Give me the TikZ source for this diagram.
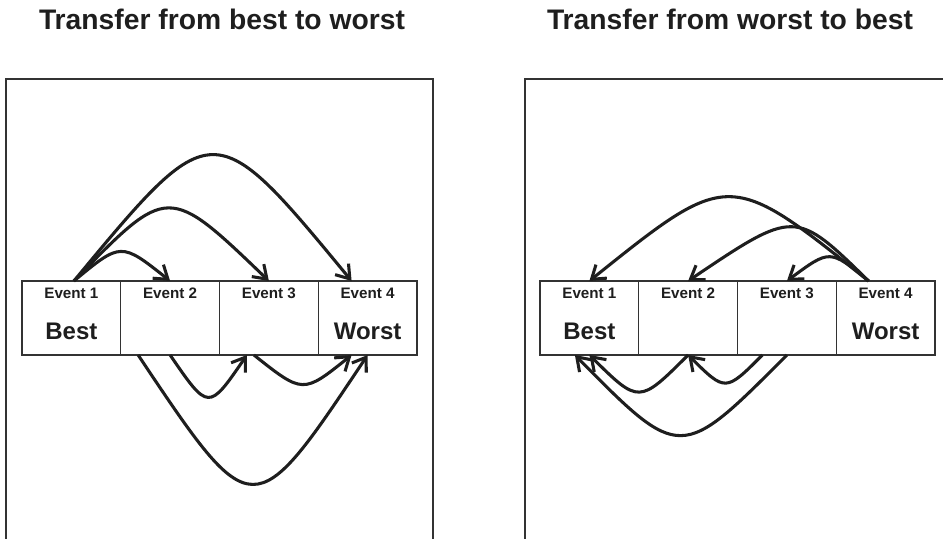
\documentclass[tikz,border=0pt]{standalone}
\usepackage{fontspec}
\setmainfont{Liberation Sans}
\usetikzlibrary{arrows.meta,calc}
\definecolor{ink}{HTML}{1E1E1E}
\definecolor{frame}{HTML}{333333}
\begin{document}
\begin{tikzpicture}[x=0.75pt,y=-0.75pt,
  panel/.style={draw=frame,line width=1.3pt},
  cell/.style={draw=frame,line width=0.8pt,rectangle,minimum width=74.06pt,minimum height=55.5pt,inner sep=0pt,outer sep=0pt},
  evtxt/.style={font=\bfseries\fontsize{11.4}{13}\selectfont,text=ink,inner sep=0pt,anchor=base},
  bigtxt/.style={font=\bfseries\fontsize{18}{21}\selectfont,text=ink,inner sep=0pt,anchor=base},
  ttl/.style={font=\bfseries\fontsize{21.2}{25}\selectfont,text=ink,inner sep=0pt,anchor=base},
  arr/.style={draw=ink,line width=2.3pt,-{Straight Barb[length=9.5pt,width=13pt]}}]
\useasboundingbox (0,0) rectangle (943,539);
\clip (0,0) rectangle (943,539);
% titles
\node[ttl] (t1) at (222,30) {Transfer from best to worst};
\node[ttl] (t2) at (730,30) {Transfer from worst to best};
% panels
\draw[panel] (6,79) rectangle (433,570);
\draw[panel] (525,79) rectangle (980,570);
% left cells
\node[cell] (a1) at (71.4,318) {};
\node[cell] (a2) at (170.1,318) {};
\node[cell] (a3) at (268.9,318) {};
\node[cell] (a4) at (367.6,318) {};
% right cells
\node[cell] (b1) at (589.4,318) {};
\node[cell] (b2) at (688.1,318) {};
\node[cell] (b3) at (786.9,318) {};
\node[cell] (b4) at (885.6,318) {};
% labels
\foreach \c/\n in {a1/1,a2/2,a3/3,a4/4,b1/1,b2/2,b3/3,b4/4}{
  \node[evtxt] (\c t) at ($(\c.north)+(0,17.3)$) {Event \n};
}
\node[bigtxt] (a1l) at ($(a1.north)+(0,58)$) {Best};
\node[bigtxt] (a4l) at ($(a4.north)+(0,58)$) {Worst};
\node[bigtxt] (b1l) at ($(b1.north)+(0,58)$) {Best};
\node[bigtxt] (b4l) at ($(b4.north)+(0,58)$) {Worst};
% left top arrows
\coordinate (s1) at ($(a1.north)+(2.5,0)$);
\draw[arr] (s1) .. controls (121,242) and (121,242) .. (a2.north);
\draw[arr] (s1) .. controls (168,184) and (168,184) .. (a3.north);
\draw[arr] (s1) .. controls (213,113) and (213,113) .. ($(a4.north)+(-16,0)$);
% left bottom arrows
\draw[arr] ($(a2.south)+(-32,0)$) .. controls (253,527) and (253,527) .. (a4.south);
\draw[arr] (a2.south) .. controls (208.5,411) and (208.5,411) .. ($(a3.south)+(-22,0)$);
\draw[arr] ($(a3.south)+(-15,0)$) .. controls (303,394) and (303,394) .. ($(a4.south)+(-16,0)$);
% right top arrows
\coordinate (s4) at ($(b4.north)+(-17,0)$);
\draw[arr] (s4) .. controls (729,169) and (729,169) .. (b1.north);
\draw[arr] (s4) .. controls (795,209) and (795,209) .. (b2.north);
\draw[arr] (s4) .. controls (830,249) and (830,249) .. (b3.north);
% right bottom arrows
\draw[arr] ($(b3.south)+(-24.5,0)$) .. controls (725.5,392) and (725.5,392) .. (b2.south);
\draw[arr] (b2.south) .. controls (639,404) and (639,404) .. (b1.south);
\draw[arr] (b3.south) .. controls (680.5,462) and (680.5,462) .. ($(b1.south)+(-14.5,0)$);
\end{tikzpicture}
\end{document}
